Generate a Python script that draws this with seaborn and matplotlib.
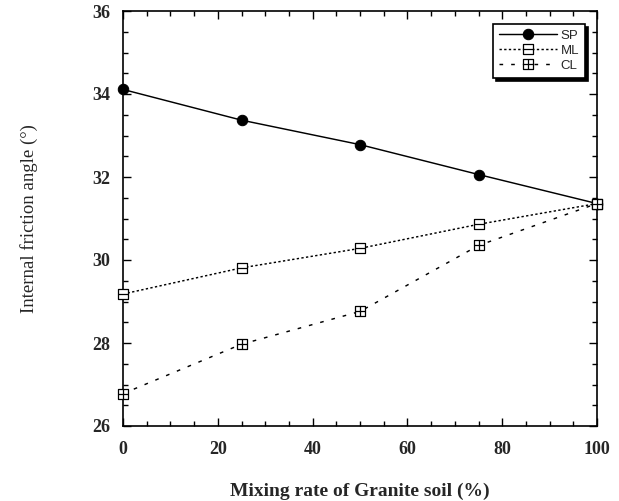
import matplotlib
matplotlib.use("Agg")
import matplotlib.pyplot as plt
from matplotlib.path import Path
from matplotlib.ticker import MultipleLocator
import pandas as pd
import seaborn as sns

# Mixing rate of granite soil (%) and internal friction angle (deg)
mixing_rate = [0, 25, 50, 75, 100]
sp_angle = [34.11, 33.37, 32.78, 32.06, 31.36]
ml_angle = [29.18, 29.81, 30.28, 30.86, 31.36]
cl_angle = [26.78, 27.97, 28.76, 30.35, 31.36]
series_names = ["SP", "ML", "CL"]

x_ticks = [0, 20, 40, 60, 80, 100]
y_ticks = [26, 28, 30, 32, 34, 36]

df = pd.DataFrame({
    "rate": mixing_rate * 3,
    "angle": sp_angle + ml_angle + cl_angle,
    "soil": [s for s in series_names for _ in mixing_rate],
})

sns.set_theme(style="ticks")
plt.rcParams["font.family"] = ["Liberation Serif", "DejaVu Serif"]

# Square markers: one split by a horizontal bar, one by a cross
sq = [(-1, -1), (1, -1), (1, 1), (-1, 1), (-1, -1)]
sq_codes = [Path.MOVETO, Path.LINETO, Path.LINETO, Path.LINETO, Path.CLOSEPOLY]
ml_marker = Path(sq + [(-1, 0), (1, 0)], sq_codes + [Path.MOVETO, Path.LINETO])
cl_marker = Path(sq + [(-1, 0), (1, 0), (0, -1), (0, 1)],
                 sq_codes + [Path.MOVETO, Path.LINETO, Path.MOVETO, Path.LINETO])

styles = {
    "SP": dict(marker="o", markersize=7.5, markerfacecolor="black",
               markeredgecolor="black", linestyle="-"),
    "ML": dict(marker=ml_marker, markersize=7, markerfacecolor="white",
               markeredgecolor="black", markeredgewidth=0.9,
               linestyle=(0, (1.6, 1.6))),
    "CL": dict(marker=cl_marker, markersize=7, markerfacecolor="white",
               markeredgecolor="black", markeredgewidth=0.9,
               linestyle=(0, (2.5, 5.5))),
}

fig = plt.figure(figsize=(6.19, 5.01), dpi=100)
ax = fig.add_axes([123 / 619, 1 - 426 / 501, 474 / 619, 415 / 501])

for name in series_names:
    sub = df[df["soil"] == name]
    sns.lineplot(data=sub, x="rate", y="angle", ax=ax, color="black",
                 linewidth=1.05, label=name, clip_on=False, zorder=3,
                 **styles[name])

ax.set_xlim(0, 100)
ax.set_ylim(26, 36)
ax.set_xticks(x_ticks)
ax.set_yticks(y_ticks)
ax.xaxis.set_minor_locator(MultipleLocator(5))
ax.yaxis.set_minor_locator(MultipleLocator(0.5))
ax.tick_params(which="both", direction="in", top=True, right=True,
               color="black", width=1.0)
ax.tick_params(which="major", length=6)
ax.tick_params(which="minor", length=3.5)
ax.tick_params(axis="x", which="major", pad=11)
ax.tick_params(axis="y", which="major", pad=9)
for lab in ax.get_xticklabels() + ax.get_yticklabels():
    lab.set_fontweight("bold")
    lab.set_fontsize(13)
for sp in ax.spines.values():
    sp.set_color("black")
    sp.set_linewidth(1.2)

ax.set_xlabel("Mixing rate of Granite soil (%)", fontsize=14,
              fontweight="bold")
ax.set_ylabel("Internal friction angle (\u00b0)", fontsize=13.5)
ax.xaxis.set_label_coords(0.5, -0.137)
ax.yaxis.set_label_coords(-0.18, 0.5)

leg = ax.legend(loc="upper right", bbox_to_anchor=(0.975, 0.969),
                borderaxespad=0, frameon=True, fancybox=False,
                shadow={"color": "black", "alpha": 1.0},
                prop={"family": "Liberation Sans", "size": 9.5},
                handlelength=4.4, handletextpad=0.3, labelspacing=0.2,
                borderpad=0.45)
leg.get_frame().set_edgecolor("black")
leg.get_frame().set_linewidth(1.2)

fig.savefig("out.png", dpi=100)
